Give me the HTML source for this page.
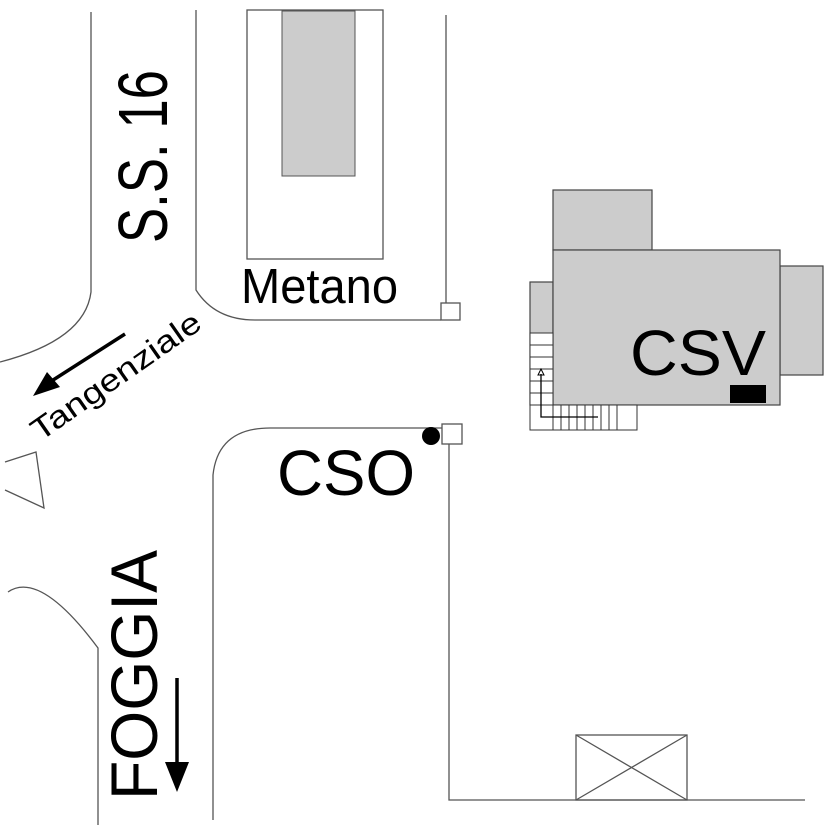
<!DOCTYPE html>
<html><head><style>body{margin:0;background:#fff}svg{display:block}</style></head><body>
<svg width="827" height="827" viewBox="0 0 827 827" xmlns="http://www.w3.org/2000/svg" font-family="Liberation Sans, sans-serif">
<g fill="none" stroke="#555" stroke-width="1.3">
<path d="M91 12 V292 Q85 340 0 362"/>
<path d="M196 10 V290 Q215 320 255 320 H441"/>
<rect x="441" y="303" width="19" height="17"/>
<path d="M446 15 V303"/>
<rect x="247" y="10" width="136" height="249"/>
<path d="M213 820 V475 Q218 428 270 428 H442"/>
<rect x="442" y="424" width="20" height="20"/>
<path d="M449 444 V800 H805"/>
<rect x="576" y="735" width="111" height="65"/>
<path d="M576 735 L687 800 M687 735 L576 800"/>
<path d="M8 592 Q40 570 98 648 V825"/>
<path d="M5 462 L36 452 L44 508 L5 490"/>
</g>
<rect x="282" y="11" width="73" height="165" fill="#ccc" stroke="#555"/>
<circle cx="431" cy="436" r="9" fill="#000"/>
<g fill="#ccc" stroke="#444" stroke-width="1.2">
<rect x="553" y="190" width="99" height="60"/>
<rect x="780" y="266" width="43" height="109"/>
<rect x="530" y="282" width="23" height="123"/>
<rect x="553" y="250" width="227" height="155"/>
</g>
<g fill="none" stroke="#333" stroke-width="1">
<rect x="530" y="333" width="23" height="97" fill="#fff"/>
<rect x="553" y="405" width="84" height="25" fill="#fff"/>
<path d="M530 345H553M530 357H553M530 369H553M530 381H553M530 393H553M530 405H553"/>
<path d="M561 405V430M569 405V430M577 405V430M585 405V430M593 405V430M601 405V430M609 405V430M617 405V430"/>
<path d="M541 374 V417 H598" stroke="#000" stroke-width="1.3"/>
</g>
<path d="M541 369 l-3 6 h6z" fill="none" stroke="#000"/>
<rect x="730" y="385" width="36" height="18" fill="#000"/>
<text x="630" y="375" font-size="64" textLength="136" lengthAdjust="spacingAndGlyphs">CSV</text>
<text x="277" y="495" font-size="64" textLength="138" lengthAdjust="spacingAndGlyphs">CSO</text>
<text x="241" y="303" font-size="49" textLength="157" lengthAdjust="spacingAndGlyphs">Metano</text>
<text transform="translate(167,243) rotate(-90)" font-size="70" textLength="173" lengthAdjust="spacingAndGlyphs">S.S. 16</text>
<text transform="translate(157,800) rotate(-90)" font-size="66" textLength="250" lengthAdjust="spacingAndGlyphs">FOGGIA</text>
<text transform="translate(40,442) rotate(-35)" font-size="31" textLength="200" lengthAdjust="spacingAndGlyphs">Tangenziale</text>
<path d="M125 334 L50 382" stroke="#000" stroke-width="3.5"/>
<path d="M33 396 L47 372 L60 387 Z" fill="#000"/>
<path d="M177 678 V770" stroke="#000" stroke-width="3.5"/>
<path d="M165 762 H189 L177 792 Z" fill="#000"/>
</svg>
</body></html>
